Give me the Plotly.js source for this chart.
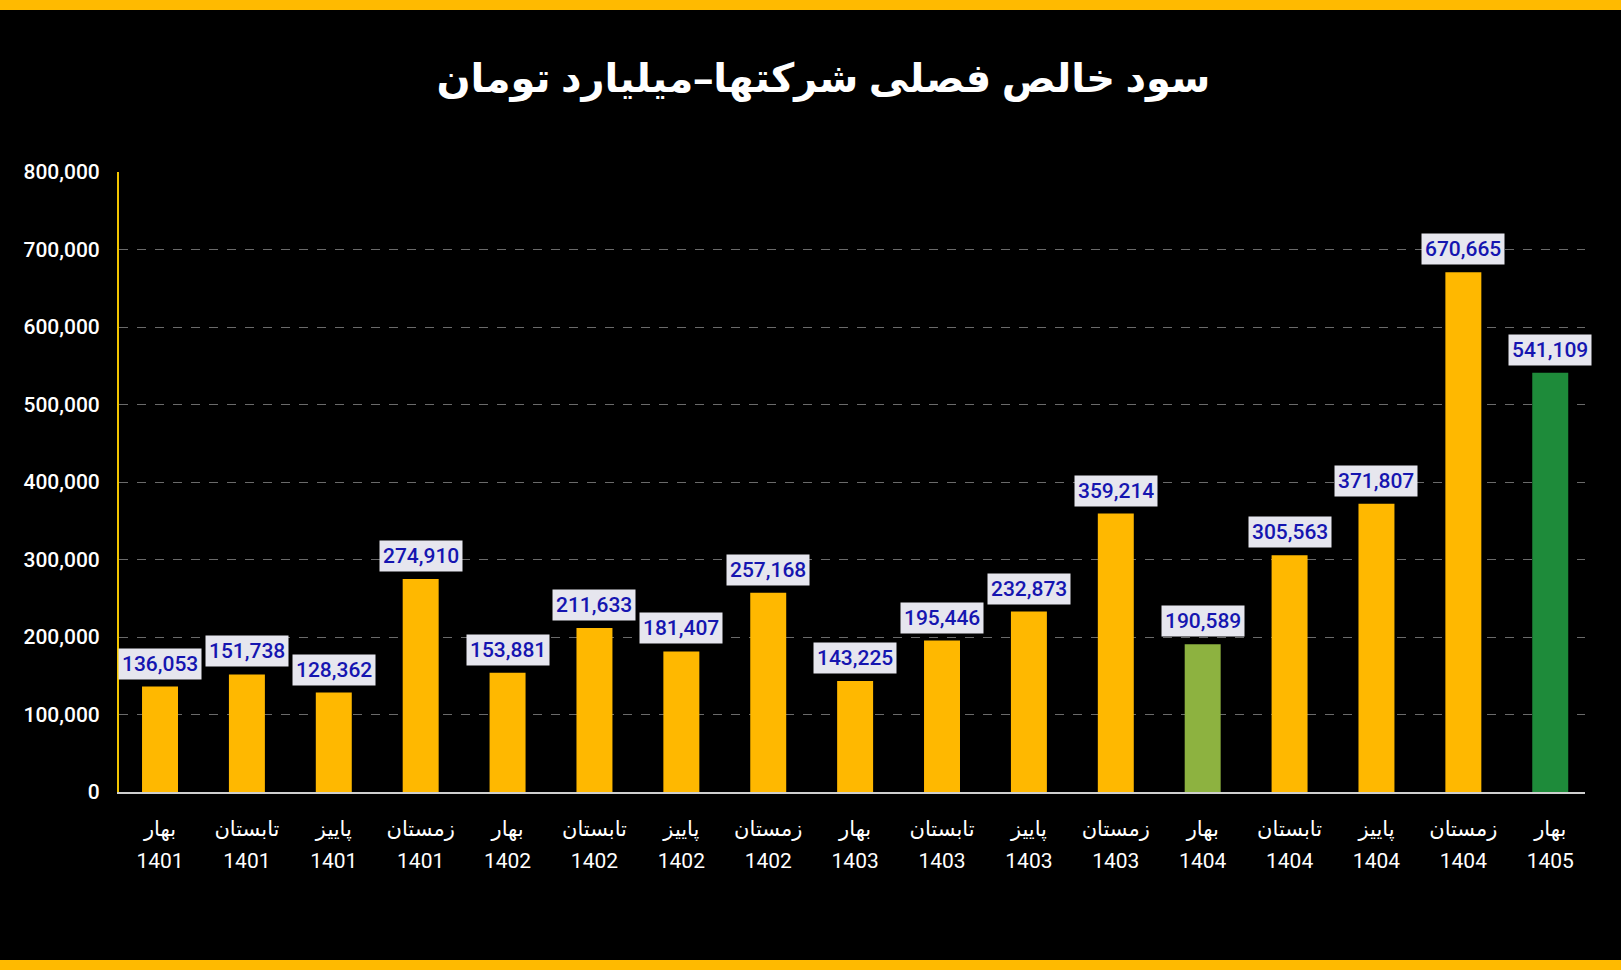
<!DOCTYPE html>
<html>
<head>
<meta charset="utf-8">
<script src="https://cdn.plot.ly/plotly-3.0.1.min.js"></script>
<style>
  html, body { margin: 0; padding: 0; background: #000; }
  #wrap { position: relative; width: 1621px; height: 970px; background: #000; overflow: hidden; }
  #chart { position: absolute; left: 0; top: 0; width: 1621px; height: 970px; }
  .stripe { position: absolute; left: 0; width: 1621px; height: 10px; background: #FFBA00; z-index: 2; }
</style>
</head>
<body>
<div id="wrap">
  <div class="stripe" style="top:0"></div>
  <div id="chart"></div>
  <div class="stripe" style="bottom:0"></div>
</div>
<script>
// Quarterly net profit of listed companies (billion toman)
const seasons = ['بهار', 'تابستان', 'پاییز', 'زمستان',
                 'بهار', 'تابستان', 'پاییز', 'زمستان',
                 'بهار', 'تابستان', 'پاییز', 'زمستان',
                 'بهار', 'تابستان', 'پاییز', 'زمستان',
                 'بهار'];
const years = ['1401', '1401', '1401', '1401',
               '1402', '1402', '1402', '1402',
               '1403', '1403', '1403', '1403',
               '1404', '1404', '1404', '1404',
               '1405'];
const profits = [136053, 151738, 128362, 274910,
                 153881, 211633, 181407, 257168,
                 143225, 195446, 232873, 359214,
                 190589, 305563, 371807, 670665,
                 541109];
const barColors = ['#FFB800', '#FFB800', '#FFB800', '#FFB800',
                   '#FFB800', '#FFB800', '#FFB800', '#FFB800',
                   '#FFB800', '#FFB800', '#FFB800', '#FFB800',
                   '#8DB240', '#FFB800', '#FFB800', '#FFB800',
                   '#1E8B3A'];
const yTicks = [0, 100000, 200000, 300000, 400000, 500000, 600000, 700000, 800000];

const fmt = v => v.toLocaleString('en-US');
const categories = seasons.map((s, i) => s + ' ' + years[i]);
// two-line tick text; the larger base font widens the gap between lines
const tickText = seasons.map((s, i) =>
  '<span style="font-size:21px">' + s + '</span><br><span style="font-size:21px">' + years[i] + '</span>');

const trace = {
  type: 'bar',
  x: categories,
  y: profits,
  marker: { color: barColors, line: { width: 0 } },
  hoverinfo: 'x+y'
};

const annotations = profits.map((v, i) => ({
  x: categories[i],
  y: v,
  xref: 'x',
  yref: 'y',
  text: fmt(v),
  showarrow: false,
  yanchor: 'bottom',
  yshift: 7,
  bgcolor: '#E6E6EE',
  borderpad: 3,
  font: { family: 'Roboto, Arial, sans-serif', size: 21, color: '#1515B0', weight: 500 }
}));

const layout = {
  width: 1621,
  height: 970,
  paper_bgcolor: 'rgba(0,0,0,0)',
  plot_bgcolor: '#000',
  margin: { l: 119, r: 36, t: 172, b: 178 },
  bargap: 0.586,
  showlegend: false,
  title: {
    text: '<b>سود خالص فصلی شرکتها–میلیارد تومان</b>',
    x: 0.508,
    xanchor: 'center',
    y: 0.92,
    yanchor: 'middle',
    font: { family: '"Noto Sans", "DejaVu Sans", sans-serif', size: 40, color: '#FFFFFF' }
  },
  xaxis: {
    type: 'category',
    categoryarray: categories,
    range: [-0.472, 16.40],
    showgrid: false,
    showline: true,
    linecolor: '#CFCFCF',
    linewidth: 2,
    ticks: '',
    tickvals: categories,
    ticktext: tickText,
    ticklabelstandoff: 12,
    tickfont: { family: 'Roboto, "Noto Sans", "DejaVu Sans", sans-serif', size: 24.6, color: '#FFFFFF' },
    fixedrange: true
  },
  yaxis: {
    range: [0, 800000],
    tickvals: yTicks,
    ticktext: yTicks.map(fmt),
    showgrid: true,
    gridcolor: '#6A6A6A',
    griddash: 'dash',
    gridwidth: 1,
    zeroline: false,
    showline: true,
    linecolor: '#F2C500',
    linewidth: 2,
    ticks: '',
    ticklabelstandoff: 13,
    tickfont: { family: 'Roboto, Arial, sans-serif', size: 21, color: '#FFFFFF', weight: 500 },
    fixedrange: true
  },
  annotations: annotations
};

Plotly.newPlot('chart', [trace], layout, { displayModeBar: false, staticPlot: true });
</script>
</body>
</html>
